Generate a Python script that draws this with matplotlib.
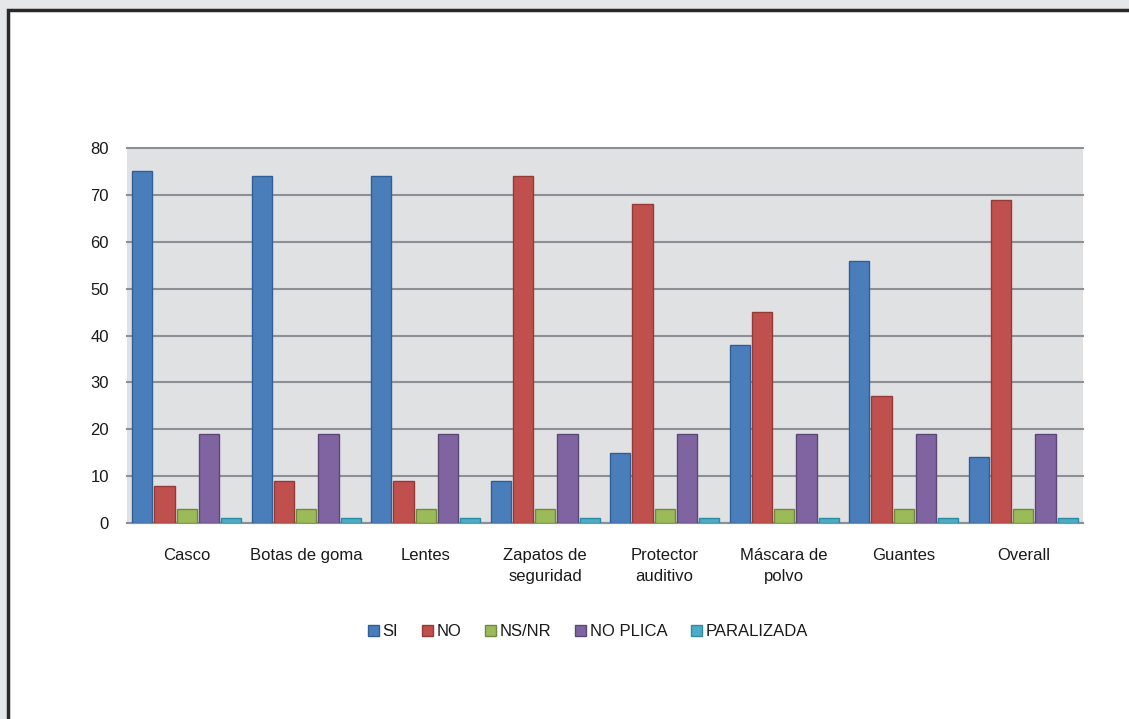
import numpy as np
import matplotlib.pyplot as plt
from matplotlib.patches import Rectangle

plt.rcParams['font.family'] = ['Liberation Sans', 'DejaVu Sans']

categories = ["Casco", "Botas de goma", "Lentes", "Zapatos de\nseguridad",
              "Protector\nauditivo", "Máscara de\npolvo", "Guantes", "Overall"]
series_names = ["SI", "NO", "NS/NR", "NO PLICA", "PARALIZADA"]
si = [75, 74, 74, 9, 15, 38, 56, 14]
no = [8, 9, 9, 74, 68, 45, 27, 69]
nsnr = [3, 3, 3, 3, 3, 3, 3, 3]
noplica = [19, 19, 19, 19, 19, 19, 19, 19]
paralizada = [1, 1, 1, 1, 1, 1, 1, 1]
yticks = [0, 10, 20, 30, 40, 50, 60, 70, 80]

colors = ["#4a7ebb", "#c0504d", "#9bbb59", "#8064a2", "#4bacc6"]
edges = ["#2f5f96", "#943a37", "#71893f", "#5c4777", "#2f8aa3"]

fig = plt.figure(figsize=(11.29, 7.19), dpi=100)
fig.patch.set_facecolor("#e6e7e8")

# white panel with dark frame on top/left
panel = Rectangle((8 / 1129, -0.05), 1.2, 1 - 10 / 719 + 0.05,
                  transform=fig.transFigure, facecolor="white",
                  edgecolor="#2a2a2a", linewidth=2.5, zorder=-5)
fig.patches.append(panel)

ax = fig.add_axes([127 / 1129, 1 - 523 / 719, (1083 - 127) / 1129, (523 - 148) / 719])
ax.set_facecolor("#e0e1e3")

x = np.arange(len(categories))
data = [si, no, nsnr, noplica, paralizada]
w = 0.168
gap = 0.018
for i, vals in enumerate(data):
    off = (i - 2) * (w + gap)
    ax.bar(x + off, vals, width=w, color=colors[i], edgecolor=edges[i],
           linewidth=1, label=series_names[i], zorder=3)

ax.set_xlim(-0.5, len(categories) - 0.5)
ax.set_ylim(0, 80)
ax.set_yticks(yticks)
ax.yaxis.grid(True, color="#8a9096", linewidth=1.5, zorder=1)
for gl in ax.get_ygridlines():
    gl.set_clip_on(False)
ax.set_axisbelow(True)
for s in ["top", "right", "left"]:
    ax.spines[s].set_visible(False)
ax.spines["bottom"].set_color("#8a9096")
ax.spines["bottom"].set_linewidth(1.5)
ax.tick_params(axis="both", length=0, labelsize=12, colors="#1a1a1a")
ax.tick_params(axis="y", pad=13)
ax.tick_params(axis="x", pad=18)
ax.set_xticks(x)
ax.set_xticklabels(categories, linespacing=1.5)

fig.legend(loc="center", bbox_to_anchor=(588 / 1129, 1 - 632 / 719), ncol=5,
           frameon=False, fontsize=12, handlelength=0.65, handleheight=0.65,
           handletextpad=0.25, columnspacing=1.4, labelcolor="#1a1a1a")

plt.savefig("out.png", dpi=100, facecolor=fig.get_facecolor())
